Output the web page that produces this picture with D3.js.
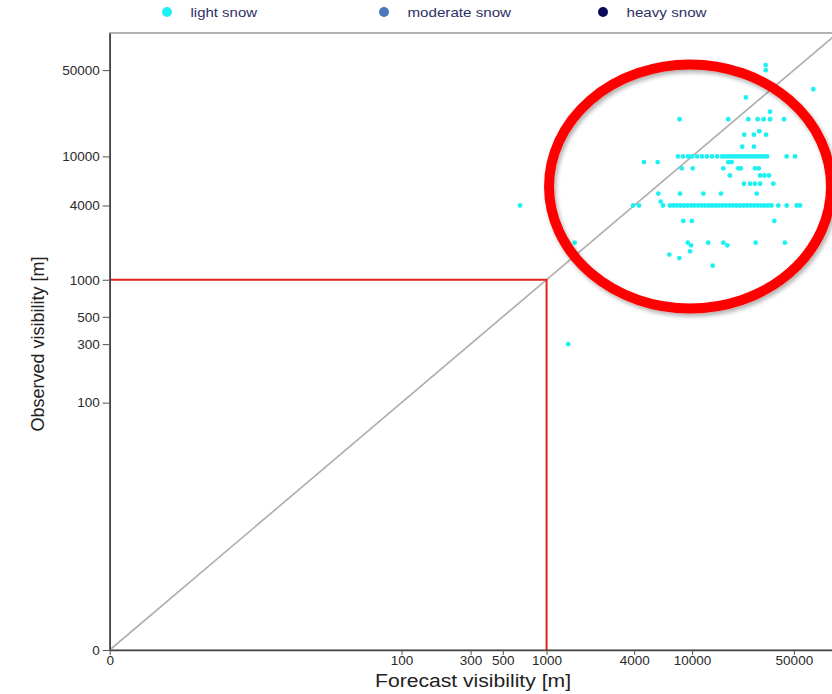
<!DOCTYPE html>
<html>
<head>
<meta charset="utf-8">
<script src="https://cdn.jsdelivr.net/npm/d3@7"></script>
<style>
  html, body { margin: 0; padding: 0; background: #fff; }
  svg { display: block; font-family: "Liberation Sans", Arial, sans-serif; }
</style>
</head>
<body>
<svg id="chart" width="832" height="694"></svg>
<script>
// ---- data ----
const seriesNames = ["light snow", "moderate snow", "heavy snow"];
const seriesColors = ["#1ff0f2", "#4a78bd", "#0b0b5c"];
const tickValues = [0, 100, 300, 500, 1000, 4000, 10000, 50000];
const thresholdValue = 1000;

// light snow: observed visibility level -> forecast visibilities
const lightObserved = [55000, 50000, 35000, 30000, 23000, 20000, 16000, 15000, 12000, 10000,
  9000, 8000, 7000, 6000, 5000, 4300, 4000, 3000, 2000, 1900, 1700, 1600, 1500, 1300, 300];
const lightForecast = [
  [32000],
  [32000],
  [68000],
  [23400],
  [34300],
  [8200, 17700, 24300, 28200, 31000, 34300, 42800],
  [28900],
  [22800, 26600, 32200],
  [22100, 26600],
  [8000, 8670, 9380, 10000, 10820, 11700, 12660, 13700, 14830, 16060, 16830, 17650, 18500, 19400,
   20350, 21340, 22380, 23470, 24610, 25800, 27060, 28370, 29750, 31200, 32720, 44650, 50900],
  [4670, 5800, 17700, 18700],
  [8490, 10090, 16380, 20770, 21600, 27040, 28700],
  [18200, 29300, 31300, 33700],
  [22700, 25000, 27000, 29300, 36100],
  [5860, 8260, 11940, 15790, 27780],
  [6085],
  [657, 3930, 4315, 6310, 7050, 7450, 7870, 8320, 8790, 9290, 9840, 10380, 10970, 11600, 12260,
   12970, 13700, 14480, 15310, 16180, 17100, 18080, 19100, 20190, 21340, 22560, 23840, 25200,
   26640, 28150, 29750, 31440, 33230, 35100, 39080, 44650, 52300, 55100],
  [8700, 9940, 36700],
  [1560, 9330, 12900, 16400, 27300, 43400],
  [9840, 17460],
  [9680],
  [6970],
  [8170],
  [13840],
  [1410]
];
const moderateForecast = [];
const moderateObserved = [];
const heavyForecast = [];
const heavyObserved = [];

// annotation ellipse centre (data coords)
const ellipseCenter = [9680, 5700];

// ---- chart ----
const svg = d3.select("#chart");
const x = d3.scaleSymlog().constant(1).domain([0, 100000]).range([109.7, 837.7]);
const y = d3.scaleSymlog().constant(1).domain([0, 100000]).range([650, 33]);

const defs = svg.append("defs");
const f = defs.append("filter").attr("id", "shadow").attr("x", "-20%").attr("y", "-20%")
  .attr("width", "140%").attr("height", "140%");
f.append("feDropShadow").attr("dx", 2).attr("dy", 3).attr("stdDeviation", 2)
  .attr("flood-color", "#000").attr("flood-opacity", 0.3);

// frame
svg.append("rect")
  .attr("x", x(0)).attr("y", y(100000))
  .attr("width", x(100000) - x(0)).attr("height", y(0) - y(100000))
  .attr("fill", "none").attr("stroke", "#8a8a8a").attr("stroke-width", 1.3);

// diagonal y = x
svg.append("line")
  .attr("x1", x(0)).attr("y1", y(0)).attr("x2", x(100000)).attr("y2", y(100000))
  .attr("stroke", "#b0b0b0").attr("stroke-width", 1.7);

// threshold lines
svg.append("path")
  .attr("d", `M${x(0)},${y(thresholdValue)}H${x(thresholdValue)}V${y(0)}`)
  .attr("fill", "none").attr("stroke", "#e2231e").attr("stroke-width", 2);

// points
const pts = [];
lightObserved.forEach((o, i) => lightForecast[i].forEach(fv => pts.push({f: fv, o: o, s: 0})));
moderateObserved.forEach((o, i) => pts.push({f: moderateForecast[i], o: o, s: 1}));
heavyObserved.forEach((o, i) => pts.push({f: heavyForecast[i], o: o, s: 2}));
svg.append("g").selectAll("circle").data(pts).join("circle")
  .attr("cx", d => x(d.f)).attr("cy", d => y(d.o)).attr("r", 2.4)
  .attr("fill", d => seriesColors[d.s]);

// axes
const xAxis = svg.append("g").attr("transform", `translate(0,${y(0)})`)
  .call(d3.axisBottom(x).tickValues(tickValues).tickFormat(d3.format("d")).tickSize(5).tickSizeOuter(0));
const yAxis = svg.append("g").attr("transform", `translate(${x(0)},0)`)
  .call(d3.axisLeft(y).tickValues(tickValues).tickFormat(d3.format("d")).tickSize(7).tickSizeOuter(0));
[xAxis, yAxis].forEach(a => {
  a.select(".domain").attr("stroke", "#444").attr("stroke-width", 1.6);
  a.selectAll(".tick line").attr("stroke", "#555");
  a.selectAll(".tick text").attr("fill", "#2a2a2a").attr("font-size", 13.5)
    .attr("font-family", "'Liberation Sans', Arial, sans-serif");
});
xAxis.selectAll(".tick text").attr("dy", "0.62em").attr("y", 7);
yAxis.selectAll(".tick text").attr("x", -10);

// axis titles
svg.append("text").attr("x", 375).attr("y", 686.5)
  .attr("textLength", 196).attr("lengthAdjust", "spacingAndGlyphs")
  .attr("font-size", 18).attr("fill", "#222").text("Forecast visibility [m]");
svg.append("text").attr("transform", "translate(44,344) rotate(-90)").attr("text-anchor", "middle")
  .attr("font-size", 18).attr("fill", "#222").text("Observed visibility [m]");

// legend
const legCircleX = [167, 384, 603];
const legTextLen = [66.5, 103.5, 80];
seriesNames.forEach((n, i) => {
  svg.append("circle").attr("cx", legCircleX[i]).attr("cy", 12).attr("r", 5).attr("fill", seriesColors[i]);
  svg.append("text").attr("x", legCircleX[i] + 23.5).attr("y", 17).attr("font-size", 13)
    .attr("textLength", legTextLen[i]).attr("lengthAdjust", "spacingAndGlyphs")
    .attr("fill", "#2c2f66").text(n);
});

// annotation ellipse
svg.append("ellipse")
  .attr("cx", x(ellipseCenter[0])).attr("cy", y(ellipseCenter[1]))
  .attr("rx", 141).attr("ry", 122)
  .attr("fill", "none").attr("stroke", "#ff0000").attr("stroke-width", 10)
  .attr("filter", "url(#shadow)");
</script>
</body>
</html>
